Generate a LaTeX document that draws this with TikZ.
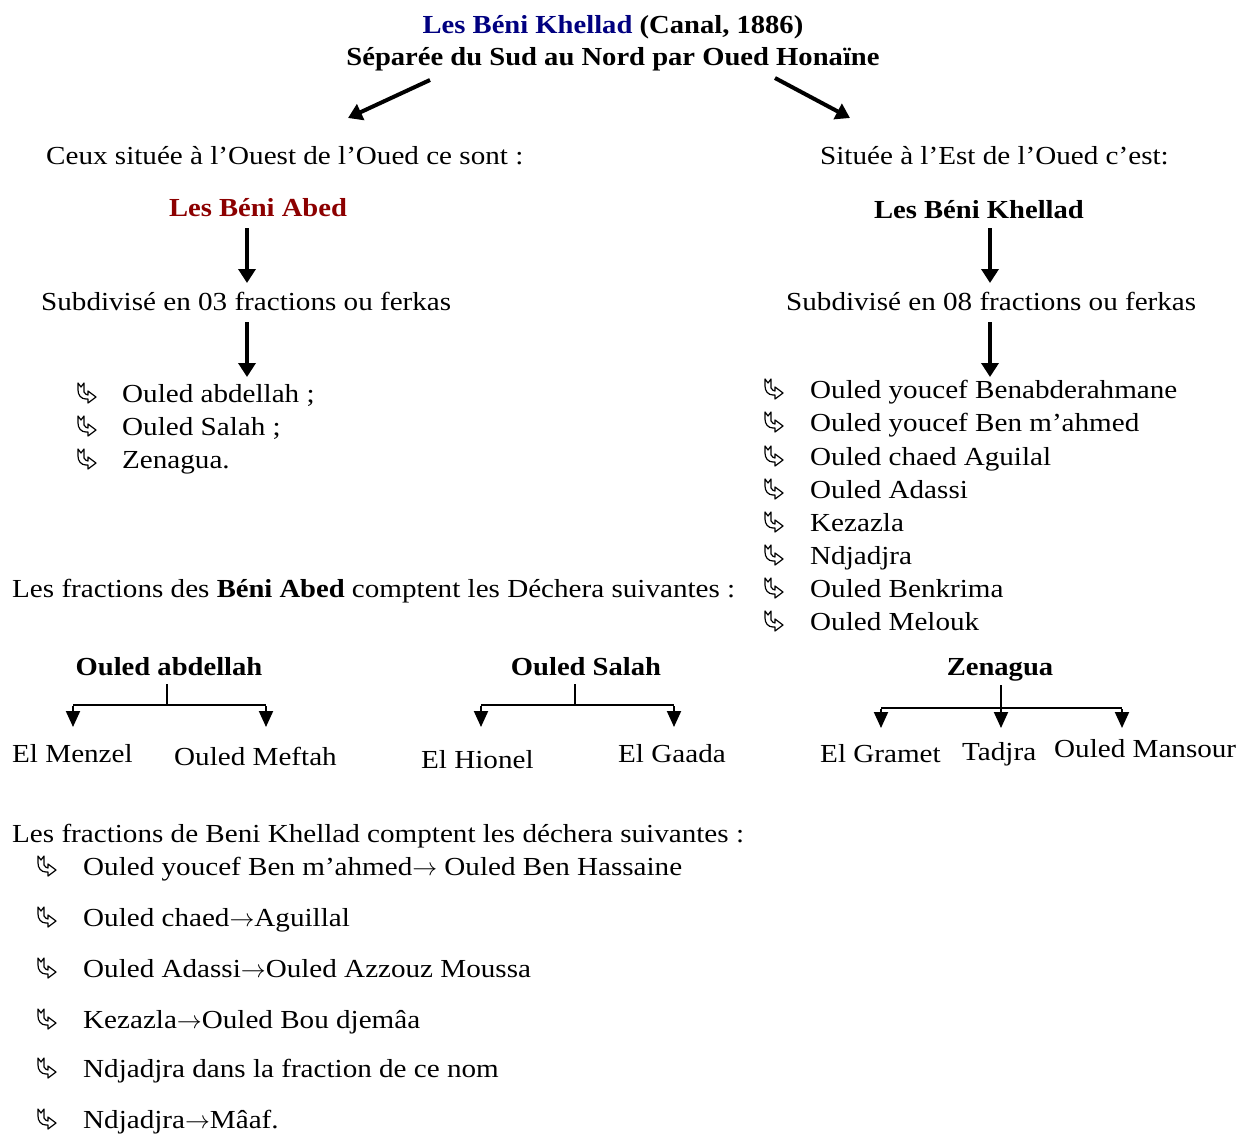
\documentclass[tikz,border=0pt]{standalone}
\usepackage{fontspec}
\setmainfont[FakeStretch=1.12,BoldFeatures={FakeStretch=1.10}]{Liberation Serif}
\usetikzlibrary{arrows.meta}
\definecolor{navyt}{RGB}{0,0,128}
\definecolor{dredt}{RGB}{140,0,0}
\begin{document}
\begin{tikzpicture}[x=1pt,y=-1pt,
  every node/.style={inner sep=0pt,font=\fontsize{26}{30}\selectfont},
  tl/.style={anchor=base west},
  tc/.style={anchor=base},
  bigarr/.style={line width=4pt,-{Triangle[width=17pt,length=14pt]}},
  tree/.style={line width=2pt},
  treearr/.style={line width=2pt,-{Triangle[width=14pt,length=16pt]}},
  bul/.pic={\draw[line width=1.2pt,fill=white,line join=round]
     (-9,-11) -- (-6,-7) -- (-3,-11) -- (-3,-2) .. controls (-2,0) and (0,1) .. (1,1)
     -- (1,-3) -- (9,3) -- (1,9) -- (1,5) -- (-1,5)
     .. controls (-6,5) and (-9,1) .. (-9,-4) -- cycle;}
]
\useasboundingbox (0,0) rectangle (1253,1135);
% title
\node[tc] (t1) at (613,33) {\textbf{\textcolor{navyt}{Les Béni Khellad}} \textbf{(Canal, 1886)}};
\node[tc] (t2) at (613,65) {\textbf{Séparée du Sud au Nord par Oued Honaïne}};
\coordinate (a1s) at (430,80); \coordinate (a1e) at (348,118);
\coordinate (a2s) at (775,78); \coordinate (a2e) at (850,118);
\draw[bigarr] (a1s) -- (a1e);
\draw[bigarr] (a2s) -- (a2e);
% heads
\node[tl] (west) at (46,164) {Ceux située à l’Ouest de l’Oued ce sont :};
\node[tl] (east) at (820,164) {Située à l’Est de l’Oued c’est:};
\node[tc] (ba) at (258,216) {\textbf{\textcolor{dredt}{Les Béni Abed}}};
\node[tc] (bk) at (979,218) {\textbf{Les Béni Khellad}};
\coordinate (v1s) at (247,228); \coordinate (v1e) at (247,283);
\coordinate (v2s) at (990,228); \coordinate (v2e) at (990,283);
\draw[bigarr] (v1s) -- (v1e);
\draw[bigarr] (v2s) -- (v2e);
\node[tl] (s1) at (41,310) {Subdivisé en 03 fractions ou ferkas};
\node[tl] (s2) at (786,310) {Subdivisé en 08 fractions ou ferkas};
\coordinate (v3s) at (247,322); \coordinate (v3e) at (247,377);
\coordinate (v4s) at (990,322); \coordinate (v4e) at (990,377);
\draw[bigarr] (v3s) -- (v3e);
\draw[bigarr] (v4s) -- (v4e);
% left list
\foreach \y/\t [count=\i] in {394/{Ouled abdellah ;},427/{Ouled Salah ;},460/{Zenagua.}}{
  \pic at (87,\y) {bul};
  \node[tl] (l\i) at (122,\y+8) {\t};
}
% right list
\foreach \y/\t [count=\i] in {390/{Ouled youcef Benabderahmane},423/{Ouled youcef Ben m’ahmed},457/{Ouled chaed Aguilal},490/{Ouled Adassi},523/{Kezazla},556/{Ndjadjra},589/{Ouled Benkrima},622/{Ouled Melouk}}{
  \pic at (774,\y) {bul};
  \node[tl] (r\i) at (810,\y+8) {\t};
}
\node[tl] (frA) at (12,597) {Les fractions des \textbf{Béni Abed} comptent les Déchera suivantes :};
% tree 1
\node[tc] (p1) at (169,675) {\textbf{Ouled abdellah}};
\coordinate (j1) at (167,705); \coordinate (j1a) at (73,705); \coordinate (j1b) at (266,705);
\coordinate (e1a) at (73,727); \coordinate (e1b) at (266,727);
\coordinate (j1t) at (167,684);
\draw[tree] (j1t) -- (j1);
\draw[tree] (j1a) -- (j1b);
\draw[treearr] ([yshift=-1pt]j1a) -- (e1a);
\draw[treearr] ([yshift=-1pt]j1b) -- (e1b);
\node[tl] (c1a) at (12,762) {El Menzel};
\node[tl] (c1b) at (174,765) {Ouled Meftah};
% tree 2
\node[tc] (p2) at (586,675) {\textbf{Ouled Salah}};
\coordinate (j2) at (575,705); \coordinate (j2a) at (481,705); \coordinate (j2b) at (674,705);
\coordinate (e2a) at (481,727); \coordinate (e2b) at (674,727);
\coordinate (j2t) at (575,684);
\draw[tree] (j2t) -- (j2);
\draw[tree] (j2a) -- (j2b);
\draw[treearr] ([yshift=-1pt]j2a) -- (e2a);
\draw[treearr] ([yshift=-1pt]j2b) -- (e2b);
\node[tl] (c2a) at (421,768) {El Hionel};
\node[tl] (c2b) at (618,762) {El Gaada};
% tree 3
\node[tc] (p3) at (1000,675) {\textbf{Zenagua}};
\coordinate (j3a) at (881,708); \coordinate (j3b) at (1122,708);
\coordinate (e3a) at (881,728); \coordinate (e3b) at (1122,728);
\coordinate (t3s) at (1001,685); \coordinate (t3e) at (1001,728);
\draw[tree] (j3a) -- (j3b);
\draw[treearr] ([yshift=-1pt]j3a) -- (e3a);
\draw[treearr] ([yshift=-1pt]j3b) -- (e3b);
\draw[treearr] (t3s) -- (t3e);
\node[tl] (c3a) at (820,762) {El Gramet};
\node[tl] (c3b) at (962,760) {Tadjra};
\node[tl] (c3c) at (1054,757) {Ouled Mansour};
% bottom
\node[tl] (frB) at (12,842) {Les fractions de Beni Khellad comptent les déchera suivantes :};
\foreach \y/\t [count=\i] in {867/{Ouled youcef Ben m’ahmed$\rightarrow$ Ouled Ben Hassaine},918/{Ouled chaed$\rightarrow$Aguillal},969/{Ouled Adassi$\rightarrow$Ouled Azzouz Moussa},1020/{Kezazla$\rightarrow$Ouled Bou djemâa},1069/{Ndjadjra dans la fraction de ce nom},1120/{Ndjadjra$\rightarrow$Mâaf.}}{
  \pic at (47,\y) {bul};
  \node[tl] (b\i) at (83,\y+8) {\t};
}
\end{tikzpicture}
\end{document}
